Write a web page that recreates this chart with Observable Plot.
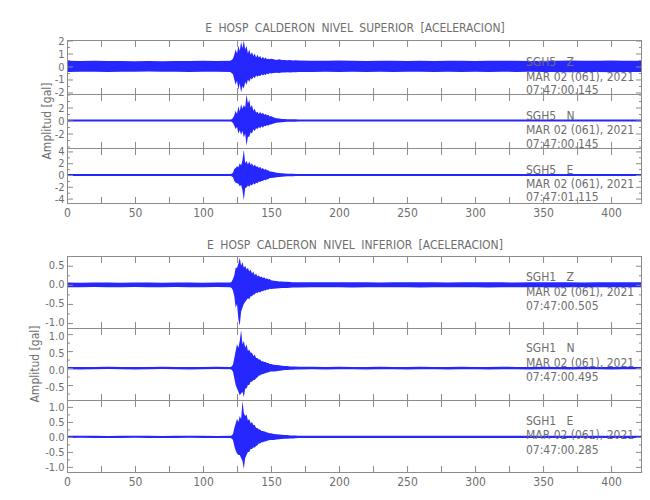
<!DOCTYPE html>
<html><head><meta charset="utf-8">
<script src="https://cdn.jsdelivr.net/npm/d3@7"></script>
<script src="https://cdn.jsdelivr.net/npm/@observablehq/plot@0.6"></script>
<style>
body{margin:0;background:#fff;}
#fig{position:relative;width:650px;height:500px;overflow:hidden;background:#fff;
 font-family:"Liberation Sans Narrow","DejaVu Sans Condensed","Arial Narrow",sans-serif;color:#6e6e6e;}
#fig svg{position:absolute;left:0;}
.t{position:absolute;font-size:12px;line-height:14px;white-space:pre;}
.ylab{position:absolute;font-size:12px;line-height:14px;white-space:pre;transform:translate(-50%,-50%) rotate(-90deg);}
</style></head><body><div id="fig"></div>
<script>
// ---- data (time in s, amplitude in gal; envelope) ----
const TIME = [0,10,20,30,40,50,60,70,80,90,100,110,120,
 121,122,123,124,125,126,127,128,129,130,131,132,133,134,135,136,137,138,139,140,141,142,143,144,145,146,147,148,149,150,
 152,154,156,158,160,162,164,166,168,170,
 180,190,200,210,220,230,240,250,260,270,280,290,300,310,320,330,340,350,360,370,380,390,400,410,420,422];

const SUP_Z_HI = [0.45,0.42,0.44,0.43,0.42,0.40,0.42,0.41,0.43,0.42,0.44,0.42,0.45,
 0.5,0.6,0.9,1.3,1.0,1.6,1.2,1.9,1.4,2.0,1.3,1.6,1.0,1.3,0.9,1.1,0.8,1.0,0.7,0.9,0.7,0.8,0.6,0.75,0.6,0.7,0.55,0.6,0.55,0.6,
 0.55,0.5,0.55,0.5,0.5,0.48,0.5,0.47,0.48,0.46,
 0.45,0.44,0.46,0.44,0.43,0.45,0.44,0.42,0.44,0.43,0.45,0.44,0.43,0.44,0.45,0.44,0.43,0.45,0.44,0.46,0.45,0.44,0.46,0.45,0.45,0.45];
const SUP_Z_LO = [-0.42,-0.40,-0.41,-0.42,-0.40,-0.41,-0.39,-0.40,-0.41,-0.42,-0.40,-0.41,-0.43,
 -0.5,-0.6,-1.0,-1.4,-1.1,-1.8,-1.3,-2.0,-1.5,-1.7,-1.2,-1.4,-1.0,-1.2,-0.9,-1.0,-0.8,-0.9,-0.7,-0.8,-0.7,-0.75,-0.6,-0.7,-0.6,-0.65,-0.55,-0.6,-0.5,-0.55,
 -0.5,-0.48,-0.5,-0.47,-0.46,-0.45,-0.46,-0.44,-0.45,-0.43,
 -0.42,-0.41,-0.43,-0.41,-0.42,-0.40,-0.42,-0.41,-0.40,-0.42,-0.41,-0.43,-0.41,-0.42,-0.40,-0.42,-0.41,-0.43,-0.42,-0.44,-0.43,-0.42,-0.44,-0.43,-0.43,-0.43];

const SUP_N_HI = [0.15,0.14,0.15,0.16,0.15,0.14,0.15,0.16,0.15,0.14,0.15,0.16,0.17,
 0.2,0.4,0.8,1.5,1.0,2.2,1.4,2.5,1.8,2.4,2.0,4.0,2.6,3.2,2.0,2.4,1.5,1.8,1.2,1.4,1.0,1.3,1.0,1.2,0.9,1.0,0.8,0.9,0.6,0.7,
 0.45,0.35,0.3,0.25,0.22,0.2,0.2,0.18,0.18,0.17,
 0.16,0.15,0.16,0.15,0.15,0.16,0.15,0.14,0.15,0.16,0.15,0.15,0.16,0.15,0.14,0.15,0.16,0.15,0.15,0.16,0.15,0.15,0.16,0.15,0.15,0.15];
const SUP_N_LO = [-0.15,-0.14,-0.15,-0.15,-0.14,-0.15,-0.16,-0.15,-0.14,-0.15,-0.15,-0.14,-0.16,
 -0.2,-0.4,-0.8,-1.3,-1.0,-2.0,-1.5,-2.2,-1.6,-2.6,-2.0,-3.9,-2.5,-2.5,-1.8,-2.0,-1.4,-1.6,-1.2,-1.3,-1.0,-1.2,-0.9,-1.1,-0.8,-0.9,-0.7,-0.8,-0.6,-0.6,
 -0.45,-0.35,-0.3,-0.25,-0.22,-0.2,-0.2,-0.18,-0.18,-0.17,
 -0.15,-0.16,-0.15,-0.14,-0.15,-0.15,-0.16,-0.15,-0.15,-0.14,-0.15,-0.16,-0.15,-0.15,-0.14,-0.15,-0.16,-0.15,-0.15,-0.14,-0.15,-0.16,-0.15,-0.15,-0.15,-0.15];

const SUP_E_HI = [0.17,0.18,0.17,0.16,0.18,0.17,0.17,0.18,0.16,0.17,0.18,0.17,0.18,
 0.2,0.4,1.0,1.2,1.5,1.3,2.0,1.6,2.5,4.3,2.0,2.4,1.8,2.3,1.7,2.0,1.5,1.8,1.4,1.5,1.2,1.4,1.0,1.2,0.9,1.0,0.8,0.8,0.6,0.6,
 0.5,0.4,0.35,0.3,0.25,0.22,0.2,0.2,0.18,0.18,
 0.17,0.18,0.17,0.17,0.16,0.17,0.18,0.17,0.17,0.16,0.17,0.18,0.17,0.17,0.16,0.17,0.18,0.17,0.17,0.16,0.17,0.18,0.17,0.17,0.17,0.17];
const SUP_E_LO = [-0.17,-0.16,-0.17,-0.18,-0.17,-0.16,-0.17,-0.18,-0.17,-0.16,-0.17,-0.18,-0.18,
 -0.2,-0.4,-1.0,-1.3,-1.4,-1.5,-1.9,-1.7,-2.6,-4.3,-2.2,-2.1,-1.8,-2.0,-1.6,-1.8,-1.4,-1.6,-1.3,-1.4,-1.1,-1.2,-1.0,-1.0,-0.8,-0.9,-0.7,-0.7,-0.5,-0.5,
 -0.45,-0.4,-0.35,-0.3,-0.25,-0.22,-0.2,-0.2,-0.18,-0.18,
 -0.17,-0.16,-0.17,-0.17,-0.18,-0.17,-0.16,-0.17,-0.17,-0.18,-0.17,-0.16,-0.17,-0.17,-0.18,-0.17,-0.16,-0.17,-0.17,-0.18,-0.17,-0.16,-0.17,-0.17,-0.17,-0.17];

const INF_Z_HI = [0.06,0.055,0.06,0.06,0.055,0.06,0.06,0.055,0.06,0.06,0.055,0.06,0.06,
 0.08,0.15,0.25,0.45,0.45,0.55,0.71,0.5,0.6,0.45,0.5,0.4,0.45,0.35,0.4,0.3,0.35,0.25,0.3,0.22,0.25,0.2,0.22,0.18,0.2,0.15,0.17,0.14,0.15,0.12,
 0.11,0.1,0.09,0.09,0.08,0.08,0.075,0.07,0.07,0.07,
 0.065,0.065,0.07,0.065,0.065,0.06,0.065,0.07,0.065,0.065,0.06,0.065,0.07,0.065,0.065,0.06,0.065,0.07,0.065,0.065,0.06,0.065,0.07,0.065,0.065,0.065];
const INF_Z_LO = [-0.06,-0.06,-0.055,-0.06,-0.06,-0.055,-0.06,-0.06,-0.055,-0.06,-0.06,-0.055,-0.06,
 -0.08,-0.15,-0.3,-0.6,-0.5,-0.9,-1.07,-0.7,-0.6,-0.5,-0.45,-0.4,-0.35,-0.38,-0.3,-0.3,-0.25,-0.25,-0.2,-0.22,-0.18,-0.2,-0.16,-0.17,-0.14,-0.15,-0.12,-0.13,-0.1,-0.11,
 -0.1,-0.095,-0.09,-0.085,-0.08,-0.08,-0.075,-0.07,-0.07,-0.07,
 -0.065,-0.06,-0.065,-0.07,-0.065,-0.065,-0.06,-0.065,-0.07,-0.065,-0.065,-0.06,-0.065,-0.07,-0.065,-0.065,-0.06,-0.065,-0.07,-0.065,-0.065,-0.06,-0.065,-0.065,-0.065,-0.065];

const INF_N_HI = [0.035,0.03,0.035,0.04,0.035,0.03,0.035,0.04,0.035,0.03,0.035,0.04,0.035,
 0.05,0.1,0.3,0.5,0.7,0.6,0.8,1.12,0.7,0.8,0.6,0.7,0.5,0.55,0.45,0.45,0.35,0.4,0.3,0.3,0.25,0.25,0.2,0.2,0.18,0.18,0.15,0.15,0.12,0.12,
 0.1,0.09,0.08,0.07,0.06,0.06,0.05,0.05,0.045,0.04,
 0.04,0.035,0.04,0.035,0.035,0.04,0.035,0.035,0.04,0.035,0.035,0.04,0.035,0.035,0.04,0.035,0.035,0.04,0.035,0.035,0.04,0.035,0.035,0.04,0.035,0.035];
const INF_N_LO = [-0.035,-0.04,-0.035,-0.03,-0.035,-0.04,-0.035,-0.03,-0.035,-0.04,-0.035,-0.03,-0.035,
 -0.05,-0.1,-0.3,-0.5,-0.6,-0.7,-0.8,-0.75,-0.7,-0.85,-0.6,-0.6,-0.5,-0.5,-0.4,-0.4,-0.35,-0.35,-0.3,-0.28,-0.22,-0.22,-0.18,-0.18,-0.16,-0.15,-0.13,-0.13,-0.11,-0.1,
 -0.1,-0.09,-0.08,-0.07,-0.06,-0.06,-0.05,-0.05,-0.045,-0.04,
 -0.035,-0.04,-0.035,-0.035,-0.04,-0.035,-0.035,-0.04,-0.035,-0.035,-0.04,-0.035,-0.035,-0.04,-0.035,-0.035,-0.04,-0.035,-0.035,-0.04,-0.035,-0.035,-0.04,-0.035,-0.035,-0.035];

const INF_E_HI = [0.035,0.04,0.035,0.03,0.035,0.04,0.035,0.03,0.035,0.04,0.035,0.03,0.035,
 0.05,0.1,0.3,0.45,0.6,0.5,0.7,0.6,1.2,0.8,0.7,0.75,0.55,0.6,0.45,0.5,0.4,0.4,0.3,0.3,0.25,0.25,0.2,0.2,0.18,0.17,0.15,0.14,0.12,0.12,
 0.1,0.09,0.08,0.07,0.06,0.06,0.05,0.05,0.045,0.04,
 0.035,0.04,0.035,0.035,0.04,0.035,0.035,0.04,0.035,0.035,0.04,0.035,0.035,0.04,0.035,0.035,0.04,0.035,0.035,0.04,0.035,0.035,0.04,0.035,0.035,0.035];
const INF_E_LO = [-0.035,-0.03,-0.035,-0.04,-0.035,-0.03,-0.035,-0.04,-0.035,-0.03,-0.035,-0.04,-0.035,
 -0.05,-0.1,-0.3,-0.45,-0.55,-0.6,-0.6,-0.7,-0.8,-1.06,-0.7,-0.6,-0.5,-0.5,-0.4,-0.4,-0.35,-0.35,-0.3,-0.28,-0.22,-0.22,-0.18,-0.18,-0.15,-0.15,-0.13,-0.12,-0.1,-0.1,
 -0.1,-0.09,-0.08,-0.07,-0.06,-0.06,-0.05,-0.05,-0.045,-0.04,
 -0.035,-0.04,-0.035,-0.035,-0.04,-0.035,-0.035,-0.04,-0.035,-0.035,-0.04,-0.035,-0.035,-0.04,-0.035,-0.035,-0.04,-0.035,-0.035,-0.04,-0.035,-0.035,-0.04,-0.035,-0.035,-0.035];

// axes
const X_DOMAIN = [0, 422];
const X_TICKS = [0,25,50,75,100,125,150,175,200,225,250,275,300,325,350,375,400];
const X_LABELS = [0,50,100,150,200,250,300,350,400];

const SUP_Z_DOMAIN = [-2.12, 2.04], SUP_Z_LABELS = [-2,-1,0,1,2], SUP_Z_MINOR = [-1.5,-0.5,0.5,1.5];
const SUP_N_DOMAIN = [-4.23, 4.08], SUP_N_LABELS = [-2,0,2], SUP_N_MINOR = [-4,-3,-1,1,3,4];
const SUP_E_DOMAIN = [-4.75, 4.58], SUP_E_LABELS = [-4,-2,0,2,4], SUP_E_MINOR = [-3,-1,1,3];
const INF_Z_DOMAIN = [-1.13, 0.755], INF_Z_LABELS = [-1,-0.5,0,0.5], INF_Z_MINOR = [-0.75,-0.25,0.25];
const INF_N_DOMAIN = [-0.94, 1.18], INF_N_LABELS = [-0.5,0,0.5,1], INF_N_MINOR = [-0.75,-0.25,0.25,0.75];
const INF_E_DOMAIN = [-1.17, 1.23], INF_E_LABELS = [-1,-0.5,0,0.5,1], INF_E_MINOR = [-0.75,-0.25,0.25,0.75];

// texts
const TITLES = ["E HOSP CALDERON NIVEL SUPERIOR [ACELERACION]", "E HOSP CALDERON NIVEL INFERIOR [ACELERACION]"];
const Y_LABEL = "Amplitud [gal]";
const STATIONS = ["SGH5   Z","SGH5   N","SGH5   E","SGH1   Z","SGH1   N","SGH1   E"];
const DATES = ["MAR 02 (061), 2021","MAR 02 (061), 2021","MAR 02 (061), 2021","MAR 02 (061), 2021","MAR 02 (061), 2021","MAR 02 (061), 2021"];
const START_TIMES = ["07:47:00.145","07:47:00.145","07:47:01.115","07:47:00.505","07:47:00.495","07:47:00.285"];

// ---- layout ----
const FONT = '"Liberation Sans Narrow","DejaVu Sans Condensed","Arial Narrow",sans-serif';
const GRAY = "#6e6e6e", FRAME = "#8c8c8c", BLUE = "#0000ff";
const fig = document.getElementById("fig");

const panels = [
  {hi:SUP_Z_HI, lo:SUP_Z_LO, domain:SUP_Z_DOMAIN, labels:SUP_Z_LABELS, minor:SUP_Z_MINOR, fmt:d=>String(d), top:40, bottom:94, xAxis:false, txt:[62,77,90], dy:0},
  {hi:SUP_N_HI, lo:SUP_N_LO, domain:SUP_N_DOMAIN, labels:SUP_N_LABELS, minor:SUP_N_MINOR, fmt:d=>String(d), top:94, bottom:148, xAxis:false, txt:[116,130,144], dy:0},
  {hi:SUP_E_HI, lo:SUP_E_LO, domain:SUP_E_DOMAIN, labels:SUP_E_LABELS, minor:SUP_E_MINOR, fmt:d=>String(d), top:148, bottom:203, xAxis:true, txt:[170,184,197], dy:0},
  {hi:INF_Z_HI, lo:INF_Z_LO, domain:INF_Z_DOMAIN, labels:INF_Z_LABELS, minor:INF_Z_MINOR, fmt:d=>d.toFixed(1), top:256, bottom:328, xAxis:false, txt:[277,292,306], dy:-1},
  {hi:INF_N_HI, lo:INF_N_LO, domain:INF_N_DOMAIN, labels:INF_N_LABELS, minor:INF_N_MINOR, fmt:d=>d.toFixed(1), top:328, bottom:400, xAxis:false, txt:[348,363,377], dy:1.5},
  {hi:INF_E_HI, lo:INF_E_LO, domain:INF_E_DOMAIN, labels:INF_E_LABELS, minor:INF_E_MINOR, fmt:d=>d.toFixed(1), top:400, bottom:472, xAxis:true, txt:[421,435,450], dy:0}
];

panels.forEach((p, k) => {
  const rows = TIME.map((t, i) => ({t, hi: p.hi[i], lo: p.lo[i]}));
  const h = p.bottom - p.top;
  const mb = p.xAxis ? 24 : 1;
  const noText = () => "";
  const svg = Plot.plot({
    width: 650, height: h + 1 + mb,
    marginLeft: 67, marginRight: 9, marginTop: 1, marginBottom: mb,
    style: {background: "transparent", overflow: "visible", fontFamily: FONT, fontSize: "12px", color: GRAY},
    x: {domain: X_DOMAIN, label: null},
    y: {domain: p.domain, label: null},
    marks: [
      Plot.areaY(rows, {x: "t", y1: "lo", y2: "hi", fill: BLUE, fillOpacity: 0.85, curve: "linear"}),
      Plot.frame({stroke: FRAME}),
      Plot.axisX(X_TICKS, {anchor: "top", tickSize: -6, tickFormat: noText, stroke: FRAME, label: null}),
      Plot.axisX(X_TICKS, {anchor: "bottom", tickSize: -6, tickFormat: noText, stroke: FRAME, label: null}),
      p.xAxis ? Plot.axisX(X_LABELS, {anchor: "bottom", tickSize: 0, tickPadding: 5, fill: GRAY, fontSize: 12, label: null}) : null,
      Plot.axisY(p.labels, {anchor: "left", tickSize: -6, tickFormat: noText, stroke: FRAME, label: null}),
      Plot.axisY(p.minor, {anchor: "left", tickSize: -3, tickFormat: noText, stroke: FRAME, label: null}),
      Plot.axisY(p.labels, {anchor: "right", tickSize: -6, tickFormat: noText, stroke: FRAME, label: null}),
      Plot.axisY(p.minor, {anchor: "right", tickSize: -3, tickFormat: noText, stroke: FRAME, label: null}),
      Plot.axisY(p.labels, {anchor: "left", tickSize: 0, tickPadding: 3, tickFormat: p.fmt, fill: GRAY, fontSize: 11, dy: p.dy, label: null})
    ]
  });
  svg.style.top = (p.top - 1) + "px";
  fig.appendChild(svg);
  [STATIONS[k], DATES[k], START_TIMES[k]].forEach((s, j) => {
    const d = document.createElement("div");
    d.className = "t"; d.textContent = s;
    d.style.left = "526px"; d.style.top = (p.txt[j] - 7) + "px";
    fig.appendChild(d);
  });
});

// titles
[[TITLES[0], 28], [TITLES[1], 245]].forEach(([s, cy]) => {
  const d = document.createElement("div");
  d.className = "t"; d.textContent = s;
  d.style.left = "355px"; d.style.top = (cy - 7) + "px"; d.style.transform = "translateX(-50%)";
  d.style.wordSpacing = "3px";
  fig.appendChild(d);
});
// y labels
[[47, 121], [35, 364]].forEach(([cx, cy]) => {
  const d = document.createElement("div");
  d.className = "ylab"; d.textContent = Y_LABEL;
  d.style.left = cx + "px"; d.style.top = cy + "px";
  fig.appendChild(d);
});
</script></body></html>
